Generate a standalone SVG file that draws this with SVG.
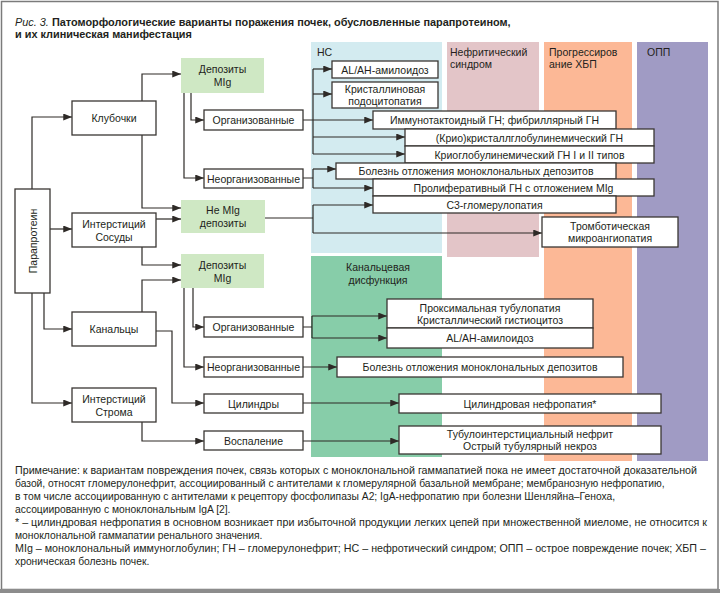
<svg xmlns="http://www.w3.org/2000/svg" width="720" height="593" viewBox="0 0 720 593">
<defs>
<marker id="ah" viewBox="0 0 10 8" refX="10" refY="4" markerWidth="9" markerHeight="7" markerUnits="userSpaceOnUse" orient="auto">
<path d="M0,0 L10,4 L0,8 Z" fill="#2e2a27"/>
</marker>
<style>
.bx{fill:#ffffff;stroke:#3a3633;stroke-width:1.3}
.gb{fill:#cfe8c4;stroke:none}
.t{font-family:"Liberation Sans",Arial,sans-serif;font-size:10.5px;fill:#231f20;text-anchor:middle;dominant-baseline:central}
.h{font-family:"Liberation Sans",Arial,sans-serif;font-size:10.5px;fill:#231f20}
.c{fill:none;stroke:#2e2a27;stroke-width:1.2}
.a{marker-end:url(#ah)}
.n{font-family:"Liberation Sans",Arial,sans-serif;font-size:10.3px;fill:#231f20}
</style>
</defs>
<rect x="0" y="0" width="720" height="593" fill="#ffffff"/>
<rect x="1.5" y="1.5" width="716.5" height="588" fill="none" stroke="#7b7b7b" stroke-width="1.5"/>
<rect x="0" y="589" width="720" height="4" fill="#8c8c8c"/>

<text x="15" y="26" style="font-family:'Liberation Sans',Arial,sans-serif;font-size:10.9px;fill:#231f20"><tspan font-style="italic">Рис. 3. </tspan><tspan font-weight="bold">Патоморфологические варианты поражения почек, обусловленные парапротеином,</tspan></text>
<text x="15" y="38" style="font-family:'Liberation Sans',Arial,sans-serif;font-size:10.9px;font-weight:bold;fill:#231f20">и их клиническая манифестация</text>

<g id="columns">
<rect x="311" y="42" width="131" height="211" fill="#d3ebf0"/>
<rect x="311" y="256" width="131" height="201" fill="#87cda9"/>
<rect x="447" y="42" width="92" height="215" fill="#e3c5c8"/>
<rect x="544" y="42" width="88" height="419" fill="#fcb896"/>
<rect x="637" y="42" width="71" height="419" fill="#a09bc4"/>
<text class="h" x="317" y="56">НС</text>
<text class="h" x="450" y="56">Нефритический</text>
<text class="h" x="450" y="68">синдром</text>
<text class="h" x="549" y="56">Прогрессиров</text>
<text class="h" x="549" y="68">ание ХБП</text>
<text class="h" x="647" y="56">ОПП</text>
<text class="t" x="378" y="267">Канальцевая</text>
<text class="t" x="378" y="280">дисфункция</text>
</g>

<g id="connectors">
<path class="c a" d="M32,189 V117 H72"/>
<path class="c a" d="M50,229 H72"/>
<path class="c a" d="M44,293 V329 H72"/>
<path class="c a" d="M32,293 V403 H72"/>
<path class="c a" d="M142,101 V74 H181"/>
<path class="c a" d="M142,135 V208 H181"/>
<path class="c a" d="M156,219 H181"/>
<path class="c a" d="M142,247 V265 H181"/>
<path class="c a" d="M142,312 V280 H181"/>
<path class="c a" d="M156,331 H172 V403 H204"/>
<path class="c a" d="M142,422 V441 H204"/>
<path class="c a" d="M191,93 V120 H204"/>
<path class="c a" d="M184,93 V178 H204"/>
<path class="c a" d="M193,288 V327 H204"/>
<path class="c a" d="M184,288 V367 H204"/>
<path class="c a" d="M303,120 H373"/>
<path class="c" d="M313,69 V154"/>
<path class="c a" d="M313,69 H332"/>
<path class="c a" d="M313,94 H332"/>
<path class="c a" d="M313,137 H405"/>
<path class="c a" d="M313,154 H405"/>
<path class="c" d="M303,178 H313 M313,169 V188"/>
<path class="c a" d="M313,169 H336"/>
<path class="c a" d="M313,188 H373"/>
<path class="c" d="M265,218 H313 M313,205 V233"/>
<path class="c a" d="M313,205 H373"/>
<path class="c a" d="M313,233 H542"/>
<path class="c" d="M303,327 H312 M312,316 V338"/>
<path class="c a" d="M312,316 H387"/>
<path class="c a" d="M312,338 H387"/>
<path class="c a" d="M303,367 H337"/>
<path class="c a" d="M303,403 H399"/>
<path class="c a" d="M303,441 H399"/>
</g>

<g id="paraprotein"><rect class="bx" x="15" y="189" width="35" height="104"/><text class="t" x="32.5" y="241" transform="rotate(-90 32.5 241)">Парапротеин</text></g>
<g id="klubochki"><rect class="bx" x="72" y="101" width="84" height="34"/><text class="t" x="114" y="118">Клубочки</text></g>
<g id="sosudy"><rect class="bx" x="72" y="213" width="84" height="34"/><text class="t" x="114" y="224">Интерстиций</text><text class="t" x="114" y="237">Сосуды</text></g>
<g id="kanaltsy"><rect class="bx" x="72" y="312" width="84" height="34"/><text class="t" x="114" y="329">Канальцы</text></g>
<g id="stroma"><rect class="bx" x="72" y="388" width="84" height="34"/><text class="t" x="114" y="399">Интерстиций</text><text class="t" x="114" y="412">Строма</text></g>

<g id="dep1"><rect class="gb" x="181" y="58" width="83" height="35"/><text class="t" x="222.5" y="69">Депозиты</text><text class="t" x="222.5" y="82">MIg</text></g>
<g id="nemig"><rect class="gb" x="181" y="200" width="84" height="33"/><text class="t" x="223" y="210">Не MIg</text><text class="t" x="223" y="223">депозиты</text></g>
<g id="dep2"><rect class="gb" x="181" y="254" width="83" height="34"/><text class="t" x="222.5" y="265">Депозиты</text><text class="t" x="222.5" y="278">MIg</text></g>

<g id="org1"><rect class="bx" x="204" y="110" width="99" height="20"/><text class="t" x="253.5" y="120">Организованные</text></g>
<g id="neorg1"><rect class="bx" x="204" y="169" width="99" height="19"/><text class="t" x="253.5" y="178.5">Неорганизованные</text></g>
<g id="org2"><rect class="bx" x="204" y="317" width="99" height="20"/><text class="t" x="253.5" y="327">Организованные</text></g>
<g id="neorg2"><rect class="bx" x="204" y="357" width="99" height="20"/><text class="t" x="253.5" y="367">Неорганизованные</text></g>
<g id="cilindry"><rect class="bx" x="204" y="394" width="99" height="19"/><text class="t" x="253.5" y="403.5">Цилиндры</text></g>
<g id="vospalenie"><rect class="bx" x="204" y="431" width="99" height="19"/><text class="t" x="253.5" y="440.5">Воспаление</text></g>

<g id="alah1"><rect class="bx" x="332" y="61" width="106" height="17"/><text class="t" x="385" y="69.5">AL/AH-амилоидоз</text></g>
<g id="kristpodo"><rect class="bx" x="332" y="82" width="106" height="26"/><text class="t" x="385" y="89">Кристаллиновая</text><text class="t" x="385" y="101">подоцитопатия</text></g>
<g id="immuno"><rect class="bx" x="373" y="111" width="243" height="18"/><text class="t" x="494.5" y="120">Иммунотактоидный ГН; фибриллярный ГН</text></g>
<g id="krio"><rect class="bx" x="405" y="129" width="249" height="17"/><text class="t" x="529.5" y="137.5">(Крио)кристаллглобулинемический ГН</text></g>
<g id="krioglob"><rect class="bx" x="405" y="146" width="249" height="17"/><text class="t" x="529.5" y="154.5">Криоглобулинемический ГН I и II типов</text></g>
<g id="bolezn1"><rect class="bx" x="336" y="163" width="280" height="16"/><text class="t" x="476" y="171">Болезнь отложения моноклональных депозитов</text></g>
<g id="prolif"><rect class="bx" x="373" y="179" width="281" height="17"/><text class="t" x="513.5" y="187.5">Пролиферативный ГН с отложением MIg</text></g>
<g id="c3"><rect class="bx" x="373" y="196" width="243" height="17"/><text class="t" x="494.5" y="204.5">С3-гломерулопатия</text></g>
<g id="tma"><rect class="bx" x="542" y="217" width="136" height="30"/><text class="t" x="610" y="226">Тромботическая</text><text class="t" x="610" y="238">микроангиопатия</text></g>
<g id="proks"><rect class="bx" x="387" y="299" width="206" height="29"/><text class="t" x="490" y="308">Проксимальная тубулопатия</text><text class="t" x="490" y="320">Кристаллический гистиоцитоз</text></g>
<g id="alah2"><rect class="bx" x="387" y="328" width="206" height="20"/><text class="t" x="490" y="338">AL/AH-амилоидоз</text></g>
<g id="bolezn2"><rect class="bx" x="337" y="357" width="286" height="20"/><text class="t" x="480" y="367">Болезнь отложения моноклональных депозитов</text></g>
<g id="cilnefr"><rect class="bx" x="399" y="394" width="262" height="19"/><text class="t" x="530" y="403.5">Цилиндровая нефропатия*</text></g>
<g id="tubulo"><rect class="bx" x="399" y="426" width="262" height="28"/><text class="t" x="530" y="434">Тубулоинтерстициальный нефрит</text><text class="t" x="530" y="446">Острый тубулярный некроз</text></g>

<g id="notes">
<text class="n" x="15" y="474" textLength="682" lengthAdjust="spacingAndGlyphs">Примечание: к вариантам повреждения почек, связь которых с моноклональной гаммапатией пока не имеет достаточной доказательной</text>
<text class="n" x="15" y="487">базой, относят гломерулонефрит, ассоциированный с антителами к гломерулярной базальной мембране; мембранозную нефропатию,</text>
<text class="n" x="15" y="500">в том числе ассоциированную с антителами к рецептору фосфолипазы А2; IgA-нефропатию при болезни Шенляйна–Геноха,</text>
<text class="n" x="15" y="513">ассоциированную с моноклональным IgA [2].</text>
<text class="n" x="15" y="526" textLength="692" lengthAdjust="spacingAndGlyphs">* – цилиндровая нефропатия в основном возникает при избыточной продукции легких цепей при множественной миеломе, не относится к</text>
<text class="n" x="15" y="539">моноклональной гаммапатии ренального значения.</text>
<text class="n" x="15" y="552" textLength="691" lengthAdjust="spacingAndGlyphs">MIg – моноклональный иммуноглобулин; ГН – гломерулонефрит; НС – нефротический синдром; ОПП – острое повреждение почек; ХБП –</text>
<text class="n" x="15" y="565">хроническая болезнь почек.</text>
</g>
</svg>
